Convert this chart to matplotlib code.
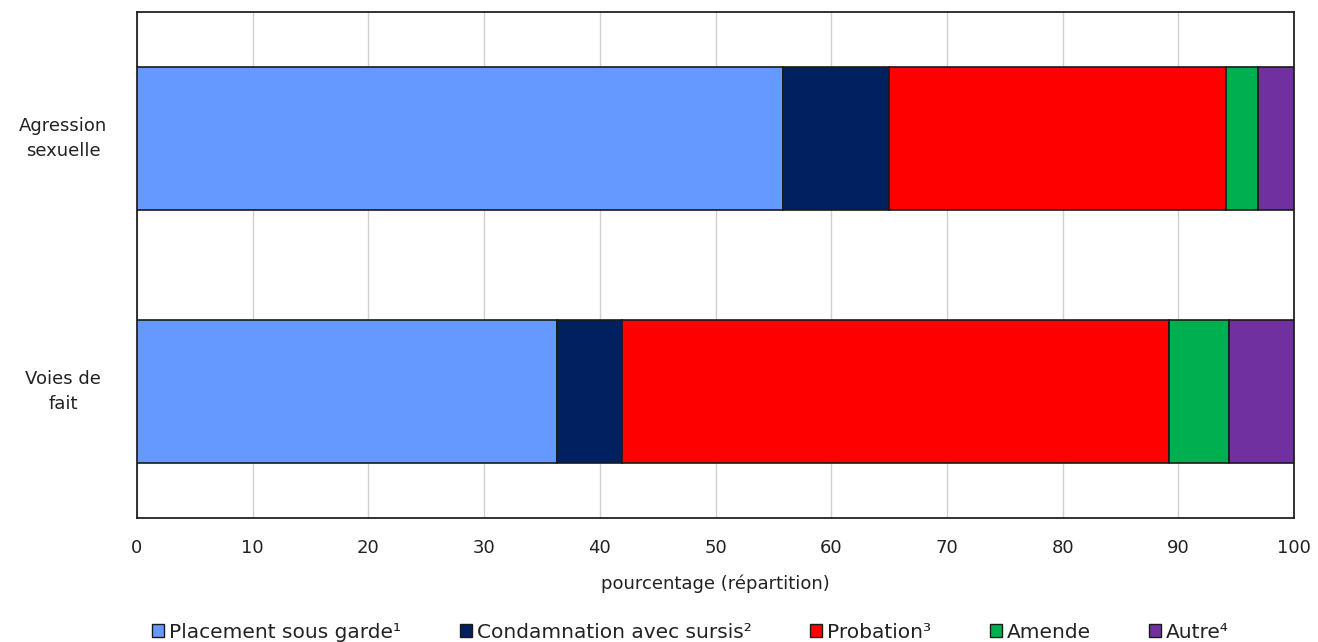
import matplotlib
matplotlib.use("Agg")
import matplotlib.pyplot as plt
import matplotlib.transforms as mtransforms
import numpy as np

categories = ["Voies de\nfait", "Agression\nsexuelle"]
series = ["Placement sous garde¹", "Condamnation avec sursis²", "Probation³", "Amende", "Autre⁴"]
values = {
    "Placement sous garde¹": [36.3, 55.8],
    "Condamnation avec sursis²": [5.6, 9.2],
    "Probation³": [47.3, 29.1],
    "Amende": [5.2, 2.8],
    "Autre⁴": [5.6, 3.1],
}
colors = ["#6699FF", "#002060", "#FF0000", "#00B050", "#7030A0"]
xticks = list(range(0, 101, 10))

plt.rcParams['font.family'] = ['DejaVu Sans']
fig = plt.figure(figsize=(13.18, 6.42), dpi=100)
ax = fig.add_axes([137/1318, 1 - 518/642, (1294-137)/1318, (518-12)/642])

y = np.arange(len(categories))
left = np.zeros(len(categories))
for s, c in zip(series, colors):
    v = np.array(values[s])
    ax.barh(y, v, left=left, height=0.567, color=c, edgecolor="#1a1a1a", linewidth=1.2, label=s, zorder=3)
    left += v

fs = 13
ax.set_xlim(0, 100)
ax.set_ylim(-0.5, 1.5)
ax.set_xticks(xticks)
ax.set_yticks(y)
ax.set_yticklabels([])
trans = mtransforms.blended_transform_factory(ax.transAxes, ax.transData)
for yi, cat in zip(y, categories):
    ax.text(-0.064, yi, cat, transform=trans, ha="center", va="center",
            fontsize=fs, color="#222222", linespacing=1.45)
ax.tick_params(axis='x', labelsize=fs, colors="#222222", length=0, pad=15)
ax.tick_params(axis='y', length=0)
ax.grid(axis='x', color="#d0d0d0", linewidth=1, zorder=0)
for sp in ax.spines.values():
    sp.set_color("#222222")
    sp.set_linewidth(1.3)
ax.set_xlabel("pourcentage (répartition)", fontsize=fs, color="#222222", labelpad=13)

leg = fig.legend(loc="center", bbox_to_anchor=(0.524, 1 - 632/642), ncol=5, frameon=False,
                 fontsize=14.5, handlelength=0.6, handleheight=0.6, handletextpad=0.25,
                 columnspacing=2.9, labelcolor="#222222", borderpad=0)
for h in leg.legend_handles:
    h.set_linewidth(1.0)

fig.savefig("out.png", dpi=100)
